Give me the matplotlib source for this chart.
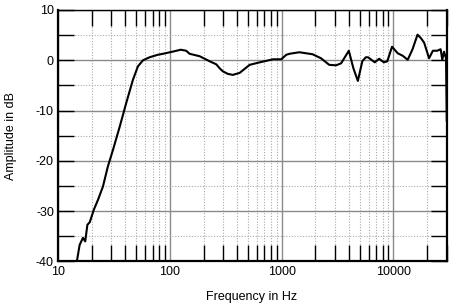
import matplotlib
matplotlib.use("Agg")
import matplotlib.pyplot as plt
from matplotlib.ticker import FixedLocator, NullFormatter, FixedFormatter
import numpy as np

plt.rcParams['font.family'] = ['Liberation Sans', 'DejaVu Sans']

freq_hz = [14.8, 15.6, 16.7, 17.5, 18.3, 19.2, 20.9, 22.8, 25.2, 27.9, 31, 35.6, 40.7,
           46.7, 51.8, 57.5, 65.8, 78, 87, 105, 125, 140, 150, 185, 227, 260, 279, 298,
           330, 366, 421, 517, 637, 838, 990, 1100, 1177, 1440, 1890, 2250, 2660,
           3060, 3400, 3985, 4380, 4800, 5260, 5650, 5920, 6800, 7440, 8200, 8800,
           9700, 10900, 12100, 13400, 14800, 16400, 17600, 18800, 20800, 22500,
           24600, 26400, 27300, 28300, 29500, 29950]
amp_db = [-39.7, -36.7, -35.3, -36.0, -32.7, -32.2, -29.7, -27.7, -25.1, -21.1, -17.8,
          -13.2, -8.5, -3.9, -1.2, 0.0, 0.6, 1.1, 1.3, 1.7, 2.1, 1.9, 1.3, 0.8, -0.2, -0.8,
          -1.6, -2.2, -2.7, -2.9, -2.5, -0.9, -0.4, 0.2, 0.2, 1.1, 1.3, 1.6, 1.2, 0.4,
          -0.9, -1.0, -0.6, 1.9, -1.6, -4.1, -0.2, 0.6, 0.6, -0.4, 0.3, -0.4, -0.2,
          2.7, 1.4, 0.9, 0.1, 2.2, 5.1, 4.4, 3.5, 0.4, 1.9, 1.9, 2.2, 0.1, 1.7, 0.4, -12.0]

x_major = [10, 100, 1000, 10000]
x_major_labels = ["10", "100", "1000", "10000"]
y_major = [-40, -30, -20, -10, 0, 10]
y_major_labels = ["-40", "-30", "-20", "-10", "0", "10"]

fig = plt.figure(figsize=(4.5, 3.03), dpi=100)
ax = fig.add_axes([0.129, 0.137, 0.864, 0.83])

ax.plot(freq_hz, amp_db, color='black', lw=1.5, zorder=5)
ax.set_xscale('log')
ax.set_xlim(10, 30000)
ax.set_ylim(-40, 10)

x_minor = [m * d for d in [10, 100, 1000, 10000] for m in range(2, 10) if m * d <= 30000]
ax.xaxis.set_major_locator(FixedLocator(x_major))
ax.xaxis.set_major_formatter(FixedFormatter(x_major_labels))
ax.xaxis.set_minor_locator(FixedLocator(x_minor))
ax.xaxis.set_minor_formatter(NullFormatter())
ax.yaxis.set_major_locator(FixedLocator(y_major))
ax.yaxis.set_major_formatter(FixedFormatter(y_major_labels))
ax.yaxis.set_minor_locator(FixedLocator([-35, -25, -15, -5, 5]))

ax.grid(which='major', color='#8a8a8a', lw=1.0, ls='-')
ax.grid(which='minor', color='#aaaaaa', lw=0.8, ls=(0, (1, 1.5)))

ax.tick_params(axis='x', which='major', length=0, labelsize=9, pad=3)
ax.tick_params(axis='x', which='minor', direction='in', length=11.5, width=1.0,
               top=True, bottom=True)
ax.tick_params(axis='y', which='both', direction='in', length=11.5, width=1.0,
               left=True, right=True, labelsize=9, pad=3)

for side in ['left', 'bottom', 'right']:
    ax.spines[side].set_linewidth(1.6)
ax.spines['top'].set_linewidth(1.0)

ax.set_xlabel('Frequency in Hz', fontsize=9)
ax.set_ylabel('Amplitude in dB', fontsize=9)
ax.xaxis.set_label_coords(0.499, -0.141, transform=ax.transAxes)
ax.xaxis.label.set_va('center')
ax.yaxis.set_label_coords(-0.121, 0.5, transform=ax.transAxes)
ax.yaxis.label.set_va('center')

fig.savefig('out.png', dpi=100)
